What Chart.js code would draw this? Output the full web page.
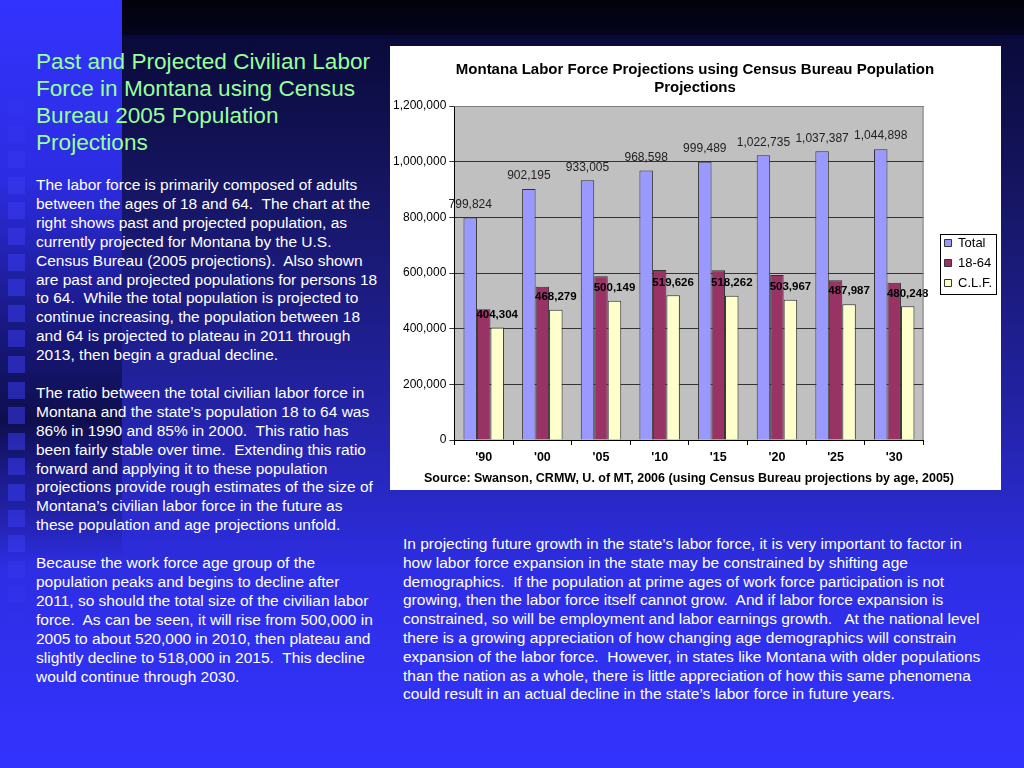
<!DOCTYPE html>
<html>
<head>
<meta charset="utf-8">
<script src="https://cdn.jsdelivr.net/npm/chart.js@4"></script>
<style>
    html, body { margin: 0; padding: 0; }
    body {
        width: 1024px; height: 768px; overflow: hidden; position: relative;
        font-family: "Liberation Sans", Arial, sans-serif;
        background: linear-gradient(to bottom, #02020c 0px, #04041c 34px, #0a0a3a 36px, #161665 200px, #2222a2 400px, #2e2ee6 580px, #3333ff 768px);
    }
    #strip {
        position: absolute; left: 0; top: 0; width: 122px; height: 768px;
        background: linear-gradient(to bottom, #3333ff 0px, #2c2ce2 180px, #18187e 330px, #0e0e4c 420px, #1c1c90 480px, rgba(44,44,220,0) 560px);
    }
    .sq { position: absolute; left: 8px; width: 17px; height: 17px; background: #3a3af0; }
    #heading {
        position: absolute; left: 36px; top: 48px; width: 360px;
        color: #99ff99; font-size: 22.6px; line-height: 27px;
    }
    #side {
        position: absolute; left: 36px; top: 176px; width: 370px;
        color: #ffffff; font-size: 15.5px; line-height: 18.9px; white-space: nowrap;
    }
    #side p { margin: 0 0 18.9px 0; }
    #bottom {
        position: absolute; left: 403px; top: 535px; width: 620px;
        color: #ffffff; font-size: 15.5px; line-height: 18.8px; white-space: nowrap;
    }
    #box { position: absolute; left: 390px; top: 46px; width: 611px; height: 444px; background: #ffffff; }
</style>
</head>
<body>
<div id="strip"></div>
<div id="squares"></div>

<div id="heading">Past and Projected Civilian Labor<br>Force in Montana using Census<br>Bureau 2005 Population<br>Projections</div>

<div id="side">
<p>The labor force is primarily composed of adults<br>between the ages of 18 and 64.&nbsp; The chart at the<br>right shows past and projected population, as<br>currently projected for Montana by the U.S.<br>Census Bureau (2005 projections).&nbsp; Also shown<br>are past and projected populations for persons 18<br>to 64.&nbsp; While the total population is projected to<br>continue increasing, the population between 18<br>and 64 is projected to plateau in 2011 through<br>2013, then begin a gradual decline.</p>
<p>The ratio between the total civilian labor force in<br>Montana and the state’s population 18 to 64 was<br>86% in 1990 and 85% in 2000.&nbsp; This ratio has<br>been fairly stable over time.&nbsp; Extending this ratio<br>forward and applying it to these population<br>projections provide rough estimates of the size of<br>Montana’s civilian labor force in the future as<br>these population and age projections unfold.</p>
<p>Because the work force age group of the<br>population peaks and begins to decline after<br>2011, so should the total size of the civilian labor<br>force.&nbsp; As can be seen, it will rise from 500,000 in<br>2005 to about 520,000 in 2010, then plateau and<br>slightly decline to 518,000 in 2015.&nbsp; This decline<br>would continue through 2030.</p>
</div>

<div id="box"><canvas id="barChart"></canvas></div>

<div id="bottom">In projecting future growth in the state’s labor force, it is very important to factor in<br>how labor force expansion in the state may be constrained by shifting age<br>demographics.&nbsp; If the population at prime ages of work force participation is not<br>growing, then the labor force itself cannot grow.&nbsp; And if labor force expansion is<br>constrained, so will be employment and labor earnings growth.&nbsp;&nbsp; At the national level<br>there is a growing appreciation of how changing age demographics will constrain<br>expansion of the labor force.&nbsp; However, in states like Montana with older populations<br>than the nation as a whole, there is little appreciation of how this same phenomena<br>could result in an actual decline in the state’s labor force in future years.</div>

<script>
const anos = ["'90", "'00", "'05", "'10", "'15", "'20", "'25", "'30"];
const total = [799824, 902195, 933005, 968598, 999489, 1022735, 1037387, 1044898];
// 18-64 nao tem rotulo no grafico, valores lidos pela altura das barras
const pop1864 = [470000, 551000, 588000, 611000, 610000, 593000, 574000, 565000];
const clf = [404304, 468279, 500149, 519626, 518262, 503967, 487987, 480248];
const yTicks = [0, 200000, 400000, 600000, 800000, 1000000, 1200000];

let cor_total = '#9999ff';
let cor_1864 = '#993366';
let cor_clf = '#ffffcc';
const fonte = '"Liberation Sans", Arial';

// quadradinhos da coluna da esquerda
const sqBox = document.getElementById('squares');
for (let i = 0; i < 21; i++) {
    const d = document.createElement('div');
    d.className = 'sq';
    d.style.top = (100 + i * 25.6) + 'px';
    let a = 0.55;
    if (i < 3) a = 0.15 + i * 0.13;
    if (i > 17) a = 0.55 - (i - 17) * 0.15;
    d.style.opacity = a;
    sqBox.appendChild(d);
}

const fmt = (v) => v.toLocaleString('en-US');

const plotBg = {
    id: 'plotBg',
    afterLayout(chart) {
        // legenda um pouco afastada da area do grafico, como no original
        const l = chart.legend;
        const dx = chart.chartArea.right + 14 - l.left;
        l.left += dx; l.right += dx;
        l.top -= 3; l.bottom -= 3;
        // titulo centrado na caixa inteira
        const t = chart.titleBlock;
        t.left += 6; t.right += 6;
    },
    beforeDraw(chart) {
        const a = chart.chartArea;
        const c = chart.ctx;
        c.save();
        c.fillStyle = '#c0c0c0';
        c.fillRect(a.left, a.top, a.right - a.left, a.bottom - a.top);
        c.restore();
    },
    afterDraw(chart) {
        const a = chart.chartArea;
        const c = chart.ctx;
        c.save();
        c.strokeStyle = '#808080';
        c.lineWidth = 1;
        c.beginPath();
        c.moveTo(a.left, a.top + 0.5);
        c.lineTo(a.right - 0.5, a.top + 0.5);
        c.lineTo(a.right - 0.5, a.bottom);
        c.stroke();
        // caixa da legenda
        const hb = chart.legend.legendHitBoxes;
        if (hb && hb.length) {
            const x0 = Math.min(...hb.map((h) => h.left)) - 5;
            const y0 = Math.min(...hb.map((h) => h.top)) - 3;
            const x1 = Math.max(...hb.map((h) => h.left + h.width)) + 4;
            const y1 = Math.max(...hb.map((h) => h.top + h.height)) + 4;
            c.strokeStyle = '#000';
            c.strokeRect(Math.round(x0) + 0.5, Math.round(y0) + 0.5, Math.round(x1 - x0), Math.round(y1 - y0));
        }
        c.restore();
    }
};

const valueLabels = {
    id: 'valueLabels',
    afterDatasetsDraw(chart) {
        const c = chart.ctx;
        c.save();
        c.textAlign = 'center';
        c.textBaseline = 'middle';
        [0, 2].forEach((ds) => {
            c.font = ds == 0 ? '12px ' + fonte : 'bold 11.5px ' + fonte;
            c.fillStyle = ds == 0 ? '#222' : '#000';
            chart.getDatasetMeta(ds).data.forEach((bar, i) => {
                c.fillText(fmt(chart.data.datasets[ds].data[i]), bar.x, bar.y - 13);
            });
        });
        c.restore();
    }
};

function barChart() {
    const ctx = document.getElementById('barChart');
    new Chart(ctx, {
        type: 'bar',
        data: {
            labels: anos,
            datasets: [
                { label: 'Total', data: total, backgroundColor: cor_total },
                { label: '18-64', data: pop1864, backgroundColor: cor_1864 },
                { label: 'C.L.F.', data: clf, backgroundColor: cor_clf }
            ]
        },
        options: {
            responsive: true,
            maintainAspectRatio: false,
            animation: false,
            datasets: {
                bar: {
                    borderWidth: 1,
                    borderColor: '#333',
                    categoryPercentage: 0.69,
                    barPercentage: 1.0
                }
            },
            layout: { padding: { left: 0, right: 13, bottom: 4 } },
            plugins: {
                title: {
                    display: true,
                    text: ['Montana Labor Force Projections using Census Bureau Population', 'Projections'],
                    color: '#000',
                    font: { family: fonte, size: 15, weight: 'bold' },
                    padding: { top: 15, bottom: 9 },
                    lineHeight: 1.2
                },
                subtitle: {
                    display: true,
                    position: 'bottom',
                    text: 'Source: Swanson, CRMW, U. of MT, 2006 (using Census Bureau projections by age, 2005)',
                    color: '#000',
                    font: { family: fonte, size: 12.5, weight: 'bold' },
                    padding: { top: 1, bottom: 0 },
                    lineHeight: 1.2
                },
                legend: {
                    position: 'right',
                    labels: {
                        color: '#000',
                        boxWidth: 7,
                        boxHeight: 7,
                        padding: 7,
                        font: { family: fonte, size: 13 }
                    }
                },
                tooltip: { enabled: false }
            },
            scales: {
                x: {
                    grid: { drawOnChartArea: false, color: '#000', tickLength: 5 },
                    border: { color: '#000' },
                    ticks: {
                        color: '#000',
                        padding: 5,
                        font: { family: fonte, size: 12.5, weight: 'bold' }
                    }
                },
                y: {
                    min: 0,
                    max: 1200000,
                    afterBuildTicks: (axis) => { axis.ticks = yTicks.map((v) => ({ value: v })); },
                    grid: { color: '#333', tickLength: 5 },
                    border: { color: '#000' },
                    ticks: {
                        color: '#000',
                        padding: 3,
                        font: { family: fonte, size: 12 },
                        callback: (v) => fmt(v)
                    }
                }
            }
        },
        plugins: [plotBg, valueLabels]
    });
}

barChart();
</script>
</body>
</html>
